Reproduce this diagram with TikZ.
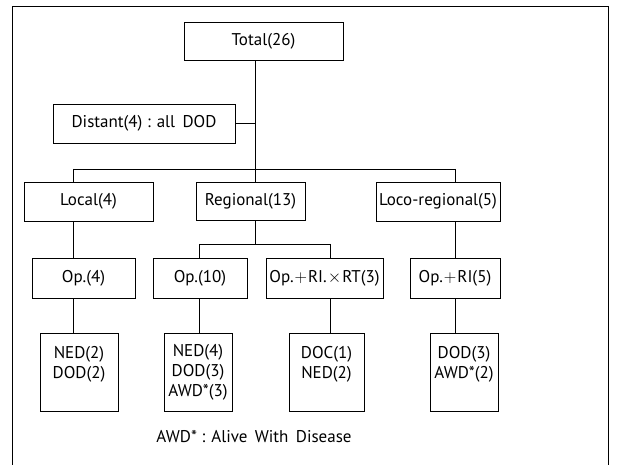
\documentclass[tikz,border=0pt]{standalone}
\usepackage{fontspec}
\setmainfont{PT Sans}
\begin{document}
\begin{tikzpicture}[x=1pt,y=-1pt,
  box/.style={draw,line width=0.8pt,inner sep=0pt,align=center,font=\fontsize{17}{20}\selectfont},
  conn/.style={line width=0.8pt}]
\useasboundingbox (0,0) rectangle (619,465);
\begin{scope}
\clip (0,0) rectangle (619,465);
\draw[conn] (12,6) rectangle (608,475);
\end{scope}
\node[box,minimum width=159pt,minimum height=38pt] (total) at (263.5,41) {Total(26)};
\node[box,minimum width=182pt,minimum height=39pt] (distant) at (144,123.5) {Distant(4) : all\, DOD};
\node[box,minimum width=129pt,minimum height=39pt] (local) at (88.5,201.5) {Local(4)};
\node[box,minimum width=109pt,minimum height=38pt] (regional) at (250.5,201) {Regional(13)};
\node[box,minimum width=124pt,minimum height=39pt] (loco) at (438,201.5) {Loco-regional(5)};
\node[box,minimum width=103pt,minimum height=40pt] (op4) at (83.5,278) {Op.(4)};
\node[box,minimum width=94pt,minimum height=40pt] (op10) at (200,278) {Op.(10)};
\node[box,minimum width=117pt,minimum height=40pt] (oprt) at (324.5,278) {Op.\kern1pt$+$\kern1pt RI.\kern1pt$\times$\kern1pt RT(3)};
\node[box,minimum width=90pt,minimum height=40pt] (oprl) at (455,278) {Op.\kern1pt$+$\kern1pt RI(5)};
\node[box,minimum width=78pt,minimum height=78pt] (r1) at (79,372) {NED(2)\\DOD(2)\\\mbox{}};
\node[box,minimum width=68pt,minimum height=78pt] (r2) at (198,372) {NED(4)\\DOD(3)\\AWD*(3)};
\node[box,minimum width=75pt,minimum height=78pt] (r3) at (326.5,372) {DOC(1)\\NED(2)\\\mbox{}};
\node[box,minimum width=68pt,minimum height=78pt] (r4) at (464,372) {DOD(3)\\AWD*(2)\\\mbox{}};
\node[font=\fontsize{17}{20}\selectfont] (note) at (254,437) {AWD* : Alive\, With\, Disease};
\coordinate (j1) at (255,169);
\coordinate (jl) at (73,169);
\coordinate (jr) at (455,169);
\coordinate (j2) at (255,244);
\coordinate (j2l) at (199,244);
\coordinate (j2r) at (330,244);
\draw[conn] (total.south -| j1) -- (j1);
\draw[conn] (distant.east) -- (distant.east -| j1);
\draw[conn] (jl) -- (jr);
\draw[conn] (jl) -- (local.north -| jl);
\draw[conn] (j1) -- (regional.north -| j1);
\draw[conn] (jr) -- (loco.north -| jr);
\draw[conn] (local.south -| jl) -- (op4.north -| jl);
\draw[conn] (regional.south -| j2) -- (j2);
\draw[conn] (j2l) -- (j2r);
\draw[conn] (j2l) -- (op10.north -| j2l);
\draw[conn] (j2r) -- (oprt.north -| j2r);
\draw[conn] (loco.south -| jr) -- (oprl.north -| jr);
\draw[conn] (op4.south -| jl) -- (r1.north -| jl);
\draw[conn] (op10.south -| j2l) -- (r2.north -| j2l);
\draw[conn] (oprt.south -| j2r) -- (r3.north -| j2r);
\draw[conn] (oprl.south -| jr) -- (r4.north -| jr);
\end{tikzpicture}
\end{document}
